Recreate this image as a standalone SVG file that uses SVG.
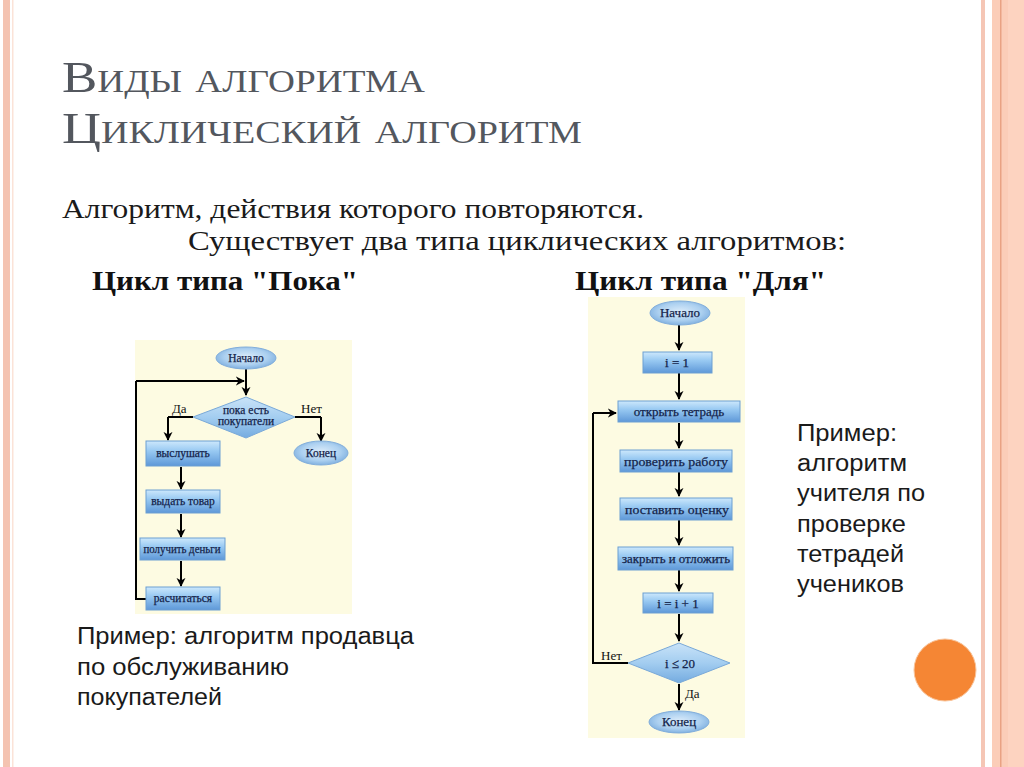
<svg xmlns="http://www.w3.org/2000/svg" width="1024" height="767" viewBox="0 0 1024 767">
<defs>
<linearGradient id="boxg" x1="0" y1="0" x2="0" y2="1">
<stop offset="0" stop-color="#cde8fc"/>
<stop offset="0.4" stop-color="#98c9f2"/>
<stop offset="1" stop-color="#5e98d8"/>
</linearGradient>
<radialGradient id="ellg" cx="0.5" cy="0.45" r="0.6">
<stop offset="0" stop-color="#dcecfa"/>
<stop offset="0.6" stop-color="#acd0f0"/>
<stop offset="1" stop-color="#76a9dc"/>
</radialGradient>
<linearGradient id="diag" x1="0" y1="0" x2="0" y2="1">
<stop offset="0" stop-color="#c9e3f8"/>
<stop offset="0.5" stop-color="#a3cdf0"/>
<stop offset="1" stop-color="#74abe0"/>
</linearGradient>
<marker id="ah" viewBox="0 0 10 10" refX="9" refY="5" markerWidth="4.5" markerHeight="5" orient="auto" markerUnits="strokeWidth">
<path d="M0,0 L10,5 L0,10 L3,5 Z" fill="#000"/>
</marker>
</defs>
<style>
.title{font-family:"Liberation Serif",serif;font-size:44px;font-variant:small-caps;fill:#53575e}
.body{font-family:"Liberation Serif",serif;font-size:27px;fill:#1a1a1a}
.head{font-family:"Liberation Serif",serif;font-size:27px;font-weight:bold;fill:#111}
.note{font-family:"Liberation Sans",Arial,sans-serif;font-size:23px;fill:#1a1a1a}
.box{fill:url(#boxg);stroke:#6c9fd2;stroke-width:1}
.ell{fill:url(#ellg);stroke:#82aedb;stroke-width:1}
.dia{fill:url(#diag);stroke:#7aa9d8;stroke-width:1}
.ft{font-family:"Liberation Serif",serif;font-size:11.5px;fill:#14234a;stroke:#14234a;stroke-width:0.25;text-anchor:middle}
.ft2{font-family:"Liberation Serif",serif;font-size:13px;fill:#14234a;stroke:#14234a;stroke-width:0.25;text-anchor:middle}
.lbl{font-family:"Liberation Serif",serif;font-size:13px;fill:#111}
.ln{fill:none;stroke:#000;stroke-width:2}
.ar{fill:none;stroke:#000;stroke-width:2;marker-end:url(#ah)}
</style>
<rect width="1024" height="767" fill="#ffffff"/>
<g id="decor">
<rect x="3" y="0" width="7" height="767" fill="#f4c3b1"/>
<rect x="12" y="0" width="1.5" height="767" fill="#fbe3d8"/>
<rect x="981" y="0" width="4" height="767" fill="#f5c6b5"/>
<rect x="992" y="0" width="32" height="767" fill="#fbcdb8"/>
<rect x="1000" y="0" width="1.5" height="767" fill="#e9a283"/>
<rect x="1008" y="0" width="16" height="767" fill="#fdd3c0"/>
<circle cx="945" cy="670" r="31" fill="#f58634" stroke="#f9c49a" stroke-width="1"/>
</g>
<g id="texts">
<text class="title" x="62" y="92" textLength="363" lengthAdjust="spacingAndGlyphs">Виды алгоритма</text>
<text class="title" x="62" y="143" textLength="520" lengthAdjust="spacingAndGlyphs">Циклический алгоритм</text>
<text class="body" x="62" y="218" textLength="582" lengthAdjust="spacingAndGlyphs">Алгоритм, действия которого повторяются.</text>
<text class="body" x="188" y="250" textLength="658" lengthAdjust="spacingAndGlyphs">Существует два типа циклических алгоритмов:</text>
<text class="head" x="92" y="290" textLength="266" lengthAdjust="spacingAndGlyphs">Цикл типа "Пока"</text>
<text class="head" x="575" y="290" textLength="251" lengthAdjust="spacingAndGlyphs">Цикл типа "Для"</text>
<text class="note" x="77" y="644" textLength="337" lengthAdjust="spacingAndGlyphs">Пример: алгоритм продавца</text>
<text class="note" x="77" y="675" textLength="212" lengthAdjust="spacingAndGlyphs">по обслуживанию</text>
<text class="note" x="77" y="705" textLength="145" lengthAdjust="spacingAndGlyphs">покупателей</text>
<text class="note" x="797" y="441" textLength="100" lengthAdjust="spacingAndGlyphs">Пример:</text>
<text class="note" x="797" y="471" textLength="110" lengthAdjust="spacingAndGlyphs">алгоритм</text>
<text class="note" x="797" y="501" textLength="128" lengthAdjust="spacingAndGlyphs">учителя по</text>
<text class="note" x="797" y="532" textLength="109" lengthAdjust="spacingAndGlyphs">проверке</text>
<text class="note" x="797" y="562" textLength="107" lengthAdjust="spacingAndGlyphs">тетрадей</text>
<text class="note" x="797" y="592" textLength="107" lengthAdjust="spacingAndGlyphs">учеников</text>
</g>
<rect x="135" y="340" width="217" height="274" fill="#fdfbe2"/>
<g id="L-connectors">
<path class="ar" d="M246,369 V395"/>
<path class="ln" d="M193,417 H168"/>
<path class="ar" d="M168,417 V440"/>
<path class="ln" d="M295,417 H321"/>
<path class="ar" d="M321,417 V441"/>
<path class="ar" d="M181,467 V489"/>
<path class="ar" d="M181,514 V537"/>
<path class="ar" d="M181,561 V586"/>
<path class="ln" d="M146,599 H136 V381"/>
<path class="ar" d="M136,381 H244"/>
<text class="lbl" x="172" y="413">Да</text>
<text class="lbl" x="301" y="413">Нет</text>
</g>
<g id="L-start"><ellipse class="ell" cx="246" cy="358" rx="30" ry="11"/><text class="ft" x="246" y="362">Начало</text></g>
<g id="L-cond"><polygon class="dia" points="246,397 295,417 246,438 193,417"/><text class="ft" x="246" y="414" font-size="9">пока есть</text><text class="ft" x="246" y="425" font-size="9">покупатели</text></g>
<g id="L-end"><ellipse class="ell" cx="321" cy="453" rx="27" ry="12"/><text class="ft" x="321" y="457" font-size="12">Конец</text></g>
<g id="L-b1"><rect class="box" x="146" y="441" width="74" height="25"/><text class="ft" x="183" y="457">выслушать</text></g>
<g id="L-b2"><rect class="box" x="146" y="490" width="74" height="23"/><text class="ft" x="183" y="505">выдать товар</text></g>
<g id="L-b3"><rect class="box" x="140" y="538" width="85" height="22"/><text class="ft" x="182" y="553" textLength="77" lengthAdjust="spacingAndGlyphs">получить деньги</text></g>
<g id="L-b4"><rect class="box" x="146" y="587" width="74" height="23"/><text class="ft" x="183" y="602">расчитаться</text></g>
<rect x="588" y="297" width="157" height="441" fill="#fdfbe2"/>
<g id="R-connectors">
<path class="ar" d="M679,325 V350"/>
<path class="ar" d="M679,373 V399"/>
<path class="ar" d="M679,423 V448"/>
<path class="ar" d="M679,472 V496"/>
<path class="ar" d="M679,520 V545"/>
<path class="ar" d="M679,570 V591"/>
<path class="ar" d="M679,614 V641"/>
<path class="ar" d="M679,684 V710"/>
<path class="ln" d="M628,663 H593 V413"/>
<path class="ar" d="M593,413 H616"/>
<text class="lbl" x="601" y="660">Нет</text>
<text class="lbl" x="685" y="698">Да</text>
</g>
<g id="R-start"><ellipse class="ell" cx="680" cy="313" rx="30" ry="12"/><text class="ft2" x="680" y="317">Начало</text></g>
<g id="R-b1"><rect class="box" x="643" y="352" width="69" height="21"/><text class="ft2" x="677" y="367">i = 1</text></g>
<g id="R-b2"><rect class="box" x="618" y="401" width="122" height="21"/><text class="ft2" x="679" y="416">открыть тетрадь</text></g>
<g id="R-b3"><rect class="box" x="620" y="450" width="112" height="22"/><text class="ft2" x="676" y="466" textLength="104" lengthAdjust="spacingAndGlyphs">проверить работу</text></g>
<g id="R-b4"><rect class="box" x="620" y="498" width="112" height="22"/><text class="ft2" x="677" y="514" textLength="104" lengthAdjust="spacingAndGlyphs">поставить оценку</text></g>
<g id="R-b5"><rect class="box" x="618" y="547" width="115" height="23"/><text class="ft2" x="676" y="563" textLength="108" lengthAdjust="spacingAndGlyphs">закрыть и отложить</text></g>
<g id="R-b6"><rect class="box" x="643" y="593" width="70" height="20"/><text class="ft2" x="678" y="608">i = i + 1</text></g>
<g id="R-cond"><polygon class="dia" points="679,643 730,663 679,683 628,663"/><text class="ft2" x="680" y="668">i ≤ 20</text></g>
<g id="R-end"><ellipse class="ell" cx="679" cy="722" rx="30" ry="11"/><text class="ft2" x="679" y="726">Конец</text></g>
</svg>
